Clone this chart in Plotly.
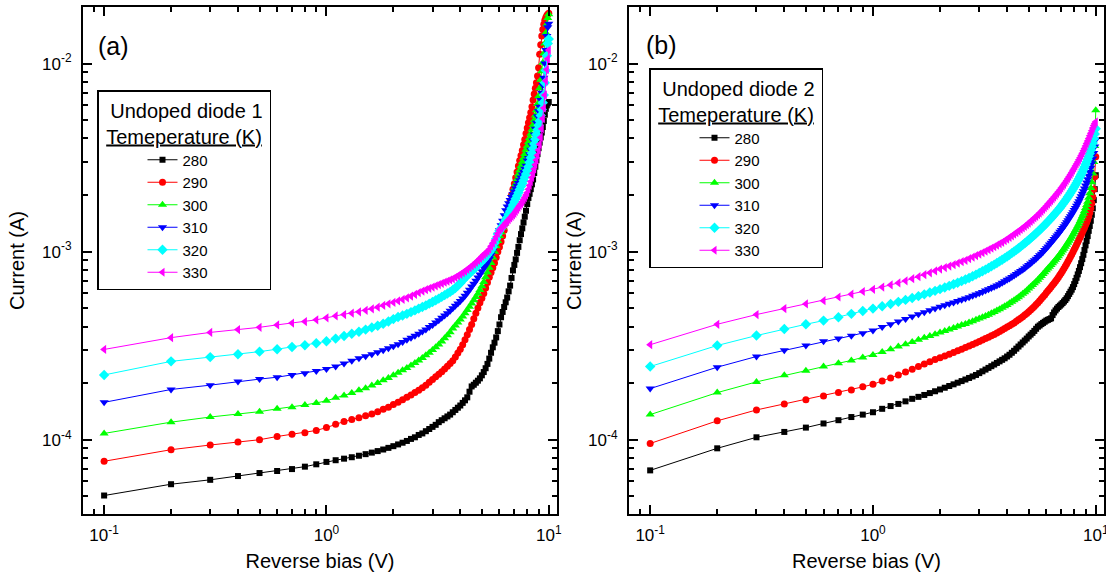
import plotly.graph_objects as go

# ---------------- data (current in microamperes) ----------------
bias = [0.1, 0.2, 0.3, 0.4, 0.5, 0.6, 0.7, 0.8, 0.9, 1.0,
        1.1, 1.2, 1.3, 1.4, 1.5, 1.6, 1.7, 1.8, 1.9, 2.0,
        2.1, 2.2, 2.3, 2.4, 2.5, 2.6, 2.7, 2.8, 2.9, 3.0,
        3.1, 3.2, 3.3, 3.4, 3.5, 3.6, 3.7, 3.8, 3.9, 4.0,
        4.1, 4.2, 4.3, 4.4, 4.5, 4.6, 4.7, 4.8, 4.9, 5.0,
        5.1, 5.2, 5.3, 5.4, 5.5, 5.6, 5.7, 5.8, 5.9, 6.0,
        6.1, 6.2, 6.3, 6.4, 6.5, 6.6, 6.7, 6.8, 6.9, 7.0,
        7.1, 7.2, 7.3, 7.4, 7.5, 7.6, 7.7, 7.8, 7.9, 8.0,
        8.1, 8.2, 8.3, 8.4, 8.5, 8.6, 8.7, 8.8, 8.9, 9.0,
        9.1, 9.2, 9.3, 9.4, 9.5, 9.6, 9.7, 9.8, 9.9, 10.0]

temperatures = ["280", "290", "300", "310", "320", "330"]

# Undoped diode 1 (panel a)
a_280 = [50.5, 58.0, 61.2, 64.1, 66.5, 68.2, 69.8, 71.9, 74.0, 76.2,
         77.8, 79.3, 80.7, 82.2, 83.8, 85.4, 87.0, 88.7, 90.5, 92.4,
         94.4, 96.4, 98.5, 101, 103, 106, 108, 111, 114, 117,
         120, 124, 127, 130, 133, 136, 140, 144, 148, 152,
         157, 162, 168, 180, 192, 196, 201, 206, 212, 220,
         229, 240, 253, 270, 290, 310, 328, 350, 378, 410,
         448, 478, 508, 538, 570, 615, 660, 725, 795, 850,
         910, 985, 1060, 1150, 1240, 1330, 1430, 1535, 1650, 1790,
         1930, 2030, 2150, 2280, 2420, 2620, 2830, 3060, 3300, 3550,
         3800, 4050, 4300, 4600, 4950, 5350, 5750, 6000, 6150, 6250]
a_290 = [76.8, 88.5, 93.7, 97.3, 100, 104, 107, 109, 112, 116,
         121, 125, 128, 131, 134, 137, 141, 145, 149, 154,
         158, 163, 168, 173, 178, 183, 189, 195, 202, 209,
         216, 223, 230, 238, 246, 254, 263, 275, 289, 303,
         320, 340, 362, 385, 410, 440, 470, 502, 535, 565,
         600, 640, 685, 730, 775, 820, 870, 930, 1000, 1060,
         1130, 1210, 1300, 1420, 1560, 1720, 1860, 2000, 2150, 2300,
         2470, 2650, 2850, 3050, 3250, 3450, 3700, 3950, 4250, 4550,
         4850, 5150, 5500, 5900, 6400, 6900, 7400, 7900, 8600, 9500,
         11200, 12600, 14000, 15200, 16200, 17000, 17600, 18000, 18300, 18500]
a_300 = [108, 124, 132, 137, 141, 146, 149, 153, 157, 161,
         167, 172, 177, 183, 188, 194, 200, 207, 213, 220,
         227, 234, 241, 248, 256, 264, 272, 281, 290, 300,
         310, 321, 333, 346, 359, 373, 390, 405, 420, 436,
         452, 470, 490, 510, 530, 552, 574, 597, 625, 655,
         690, 730, 775, 820, 870, 930, 1000, 1070, 1140, 1210,
         1270, 1340, 1410, 1490, 1580, 1680, 1780, 1900, 2030, 2160,
         2290, 2430, 2570, 2710, 2850, 3000, 3150, 3310, 3480, 3650,
         3830, 4020, 4230, 4460, 4720, 5000, 5300, 5650, 6100, 6700,
         7400, 8200, 9100, 10100, 11300, 12800, 14600, 16200, 17500, 18300]
a_310 = [158, 185, 195, 204, 210, 215, 221, 226, 232, 238,
         245, 254, 263, 271, 278, 285, 292, 299, 306, 314,
         322, 331, 340, 348, 357, 366, 376, 386, 397, 408,
         420, 432, 445, 458, 471, 485, 500, 515, 530, 546,
         563, 582, 605, 628, 652, 676, 700, 728, 757, 787,
         818, 845, 875, 915, 960, 1010, 1080, 1150, 1230, 1300,
         1380, 1460, 1560, 1660, 1740, 1810, 1880, 1950, 2020, 2090,
         2170, 2240, 2320, 2400, 2480, 2570, 2660, 2760, 2860, 3050,
         3150, 3300, 3480, 3680, 3900, 4200, 4500, 4850, 5250, 5600,
         5900, 6400, 7000, 7700, 8400, 10000, 11800, 14000, 15600, 16300]
a_320 = [221, 261, 275, 285, 294, 303, 311, 318, 326, 334,
         345, 356, 366, 375, 385, 395, 404, 414, 425, 438,
         449, 458, 467, 477, 487, 498, 508, 518, 529, 540,
         552, 563, 575, 587, 599, 611, 625, 640, 660, 680,
         704, 726, 747, 767, 787, 806, 826, 846, 868, 890,
         912, 936, 962, 990, 1022, 1058, 1110, 1170, 1240, 1290,
         1330, 1370, 1420, 1470, 1520, 1580, 1640, 1700, 1770, 1840,
         1910, 1980, 2060, 2140, 2220, 2300, 2390, 2490, 2590, 2700,
         2830, 2990, 3160, 3340, 3530, 3740, 3960, 4200, 4450, 4700,
         4950, 5300, 5700, 6200, 6800, 7900, 9200, 11000, 12800, 13500]
a_330 = [302, 349, 372, 385, 396, 408, 417, 425, 434, 445,
         455, 463, 471, 479, 488, 497, 507, 518, 528, 537,
         547, 557, 568, 580, 592, 605, 617, 628, 638, 648,
         658, 668, 678, 688, 697, 707, 717, 730, 744, 758,
         773, 789, 805, 822, 840, 858, 878, 898, 920, 943,
         965, 985, 1005, 1030, 1070, 1110, 1150, 1200, 1250, 1300,
         1330, 1360, 1390, 1420, 1450, 1480, 1510, 1540, 1570, 1600,
         1640, 1680, 1720, 1760, 1800, 1840, 1890, 1940, 2000, 2060,
         2150, 2250, 2360, 2480, 2610, 2750, 2900, 3070, 3260, 3470,
         3720, 4050, 4500, 5100, 5800, 6800, 8100, 9300, 10600, 11800]

# Undoped diode 2 (panel b)
b_280 = [68.7, 90.0, 103, 110, 116, 122, 127, 132, 136, 140,
         146, 151, 155, 160, 165, 169, 173, 177, 181, 185,
         189, 193, 197, 201, 205, 209, 213, 217, 221, 226,
         231, 236, 241, 246, 251, 256, 261, 266, 271, 277,
         283, 290, 297, 305, 313, 321, 329, 337, 345, 354,
         362, 370, 379, 389, 399, 405, 412, 418, 424, 430,
         434, 438, 442, 460, 475, 487, 498, 508, 516, 524,
         533, 543, 553, 565, 580, 596, 612, 628, 648, 672,
         698, 726, 757, 790, 827, 868, 913, 962, 1020, 1080,
         1140, 1210, 1290, 1370, 1460, 1570, 1700, 1880, 2150, 2550]
b_290 = [95.5, 126, 144, 155, 163, 171, 178, 184, 191, 197,
         205, 213, 221, 229, 237, 245, 253, 260, 267, 273,
         279, 285, 291, 297, 303, 309, 315, 321, 327, 333,
         339, 345, 351, 357, 363, 369, 376, 383, 390, 397,
         404, 411, 418, 426, 434, 442, 451, 460, 469, 479,
         489, 500, 511, 523, 535, 548, 561, 575, 589, 604,
         619, 634, 649, 664, 680, 697, 714, 732, 751, 771,
         792, 814, 837, 861, 886, 912, 939, 967, 996, 1026,
         1057, 1089, 1122, 1156, 1191, 1227, 1264, 1302, 1342, 1384,
         1430, 1480, 1540, 1610, 1700, 1810, 1950, 2150, 2500, 3200]
b_300 = [136, 178, 203, 220, 233, 245, 255, 264, 274, 282,
         293, 303, 313, 322, 331, 340, 348, 356, 364, 372,
         379, 386, 393, 400, 407, 413, 420, 427, 434, 441,
         448, 455, 462, 470, 478, 486, 494, 503, 512, 521,
         531, 541, 551, 562, 573, 585, 597, 609, 622, 636,
         650, 664, 679, 694, 710, 726, 743, 760, 778, 796,
         814, 832, 850, 868, 886, 905, 925, 946, 968, 990,
         1013, 1037, 1062, 1088, 1115, 1143, 1172, 1202, 1233, 1265,
         1298, 1333, 1370, 1409, 1450, 1494, 1541, 1592, 1647, 1706,
         1770, 1845, 1935, 2045, 2180, 2340, 2600, 3000, 3650, 5650]
b_310 = [187, 243, 277, 299, 317, 334, 345, 357, 368, 381,
         397, 411, 425, 439, 452, 464, 476, 488, 499, 510,
         519, 528, 537, 546, 555, 564, 573, 582, 591, 601,
         611, 621, 631, 641, 651, 661, 672, 684, 696, 708,
         721, 734, 747, 760, 774, 788, 802, 817, 833, 849,
         866, 883, 900, 918, 937, 956, 976, 997, 1019, 1042,
         1066, 1090, 1115, 1140, 1166, 1192, 1219, 1247, 1275, 1304,
         1335, 1367, 1400, 1434, 1469, 1505, 1542, 1581, 1621, 1663,
         1708, 1755, 1804, 1856, 1911, 1969, 2031, 2097, 2168, 2245,
         2330, 2425, 2530, 2650, 2790, 2950, 3130, 3350, 3620, 3950]
b_320 = [245, 317, 358, 388, 411, 430, 448, 467, 484, 498,
         513, 527, 541, 554, 567, 580, 593, 606, 619, 632,
         645, 658, 671, 684, 697, 711, 725, 740, 755, 771,
         787, 803, 819, 836, 853, 870, 888, 906, 924, 943,
         962, 982, 1002, 1022, 1043, 1064, 1086, 1108, 1131, 1154,
         1178, 1202, 1227, 1252, 1278, 1304, 1331, 1358, 1386, 1415,
         1445, 1475, 1506, 1538, 1570, 1603, 1637, 1672, 1708, 1745,
         1785, 1826, 1868, 1911, 1956, 2002, 2050, 2100, 2152, 2206,
         2262, 2320, 2381, 2445, 2512, 2582, 2656, 2734, 2817, 2905,
         3000, 3100, 3210, 3330, 3460, 3610, 3780, 3980, 4220, 4500]
b_330 = [320, 411, 463, 498, 527, 549, 574, 594, 614, 631,
         648, 665, 682, 700, 718, 736, 754, 772, 790, 808,
         823, 838, 853, 868, 884, 900, 917, 934, 952, 970,
         988, 1006, 1024, 1043, 1062, 1082, 1102, 1122, 1144, 1166,
         1190, 1214, 1238, 1262, 1287, 1312, 1338, 1364, 1391, 1420,
         1450, 1480, 1510, 1540, 1572, 1605, 1640, 1676, 1712, 1750,
         1790, 1830, 1870, 1910, 1952, 1995, 2040, 2085, 2130, 2180,
         2230, 2280, 2335, 2390, 2450, 2510, 2575, 2640, 2710, 2780,
         2850, 2925, 3000, 3080, 3160, 3250, 3340, 3440, 3540, 3650,
         3760, 3880, 4000, 4130, 4260, 4400, 4540, 4680, 4800, 4900]

x_tick_vals = [0.1, 1, 10]
x_tick_text = ["10<sup>-1</sup>", "10<sup>0</sup>", "10<sup>1</sup>"]
y_tick_vals = [1e-4, 1e-3, 1e-2]
y_tick_text = ["10<sup>-4</sup>", "10<sup>-3</sup>", "10<sup>-2</sup>"]

# ---------------- styling ----------------
FONT = "Liberation Sans, Arial, Helvetica, sans-serif"
colors = ["#000000", "#FF0000", "#00FF00", "#0000FF", "#00FFFF", "#FF00FF"]
symbols = ["square", "circle", "triangle-up", "triangle-down", "diamond", "triangle-left"]
sizes = [6, 7, 8, 8, 8, 8]

x_minor = [0.09, 0.2, 0.3, 0.4, 0.5, 0.6, 0.7, 0.8, 0.9, 2, 3, 4, 5, 6, 7, 8, 9]
y_minor = [5e-5, 6e-5, 7e-5, 8e-5, 9e-5,
           2e-4, 3e-4, 4e-4, 5e-4, 6e-4, 7e-4, 8e-4, 9e-4,
           2e-3, 3e-3, 4e-3, 5e-3, 6e-3, 7e-3, 8e-3, 9e-3]

W, H = 1106, 579

fig = go.Figure()

panels = [
    ([a_280, a_290, a_300, a_310, a_320, a_330], "x", "y", "legend"),
    ([b_280, b_290, b_300, b_310, b_320, b_330], "x2", "y2", "legend2"),
]
for series, xa, ya, lg in panels:
    for i, vals in enumerate(series):
        fig.add_trace(go.Scatter(
            x=bias, y=[v * 1e-6 for v in vals],
            mode="lines+markers", name=temperatures[i],
            xaxis=xa, yaxis=ya, legend=lg,
            line=dict(color=colors[i], width=1),
            marker=dict(symbol=symbols[i], size=sizes[i], color=colors[i],
                        line=dict(width=0)),
        ))


def xcfg(domain, anchor):
    return dict(
        type="log", domain=domain, anchor=anchor, range=[-1.095, 1.037],
        showline=True, linecolor="black", linewidth=2, mirror="ticks",
        ticks="inside", ticklen=9, tickwidth=1.5, tickcolor="black",
        tickmode="array", tickvals=x_tick_vals, ticktext=x_tick_text,
        tickfont=dict(size=17, family=FONT, color="black"),
        ticklabelstandoff=5, ticklabeloverflow="allow",
        minor=dict(ticks="inside", ticklen=5, tickwidth=1.5, tickcolor="black",
                   tickmode="array", tickvals=x_minor, showgrid=False),
        showgrid=False, zeroline=False,
        title=dict(text="Reverse bias (V)", font=dict(size=20, family=FONT, color="black"),
                   standoff=10),
    )


def ycfg(domain, anchor, standoff):
    return dict(
        type="log", domain=domain, anchor=anchor, range=[-4.395, -1.699],
        showline=True, linecolor="black", linewidth=2, mirror="ticks",
        ticks="inside", ticklen=9, tickwidth=1.5, tickcolor="black",
        tickmode="array", tickvals=y_tick_vals, ticktext=y_tick_text,
        tickfont=dict(size=17, family=FONT, color="black"),
        ticklabelstandoff=6, ticklabeloverflow="allow",
        minor=dict(ticks="inside", ticklen=5, tickwidth=1.5, tickcolor="black",
                   tickmode="array", tickvals=y_minor, showgrid=False),
        showgrid=False, zeroline=False,
        title=dict(text="Current (A)", font=dict(size=20, family=FONT, color="black"),
                   standoff=standoff),
    )


def legend_cfg(x_px, y_px, title):
    return dict(
        x=x_px / W, y=1 - y_px / H, xanchor="left", yanchor="top",
        bgcolor="white", bordercolor="black", borderwidth=1.5,
        font=dict(size=15, family=FONT, color="black"),
        title=dict(text=title, side="top center",
                   font=dict(size=20, family=FONT, color="black")),
        indentation=44, itemclick=False, itemdoubleclick=False,
    )


ydom = [(H - 514) / H, (H - 7) / H]
fig.update_layout(
    width=W, height=H,
    margin=dict(l=0, r=0, t=0, b=0, autoexpand=False),
    paper_bgcolor="white", plot_bgcolor="white",
    font=dict(family=FONT, color="black", size=16),
    xaxis=xcfg([83 / W, 557 / W], "y"),
    yaxis=ycfg(ydom, "x", 12),
    xaxis2=xcfg([629 / W, 1104 / W], "y2"),
    yaxis2=ycfg(ydom, "x2", 1),
    legend=legend_cfg(97, 90, "&nbsp;&#8201;Undoped diode 1<br>&nbsp;<u>Temeperature (K)</u>&nbsp;"),
    legend2=legend_cfg(649, 68, "&nbsp;&#8201;Undoped diode 2<br>&nbsp;<u>Temeperature (K)</u>&nbsp;"),
    annotations=[
        dict(text="(a)", x=96 / W, y=1 - 46 / H, xref="paper", yref="paper",
             xanchor="left", yanchor="middle", showarrow=False,
             font=dict(size=25, family=FONT, color="black")),
        dict(text="(b)", x=644 / W, y=1 - 45 / H, xref="paper", yref="paper",
             xanchor="left", yanchor="middle", showarrow=False,
             font=dict(size=25, family=FONT, color="black")),
    ],
)

fig.write_html("out.html", config={"displayModeBar": False},
               post_script="document.body.style.margin='0px';")
